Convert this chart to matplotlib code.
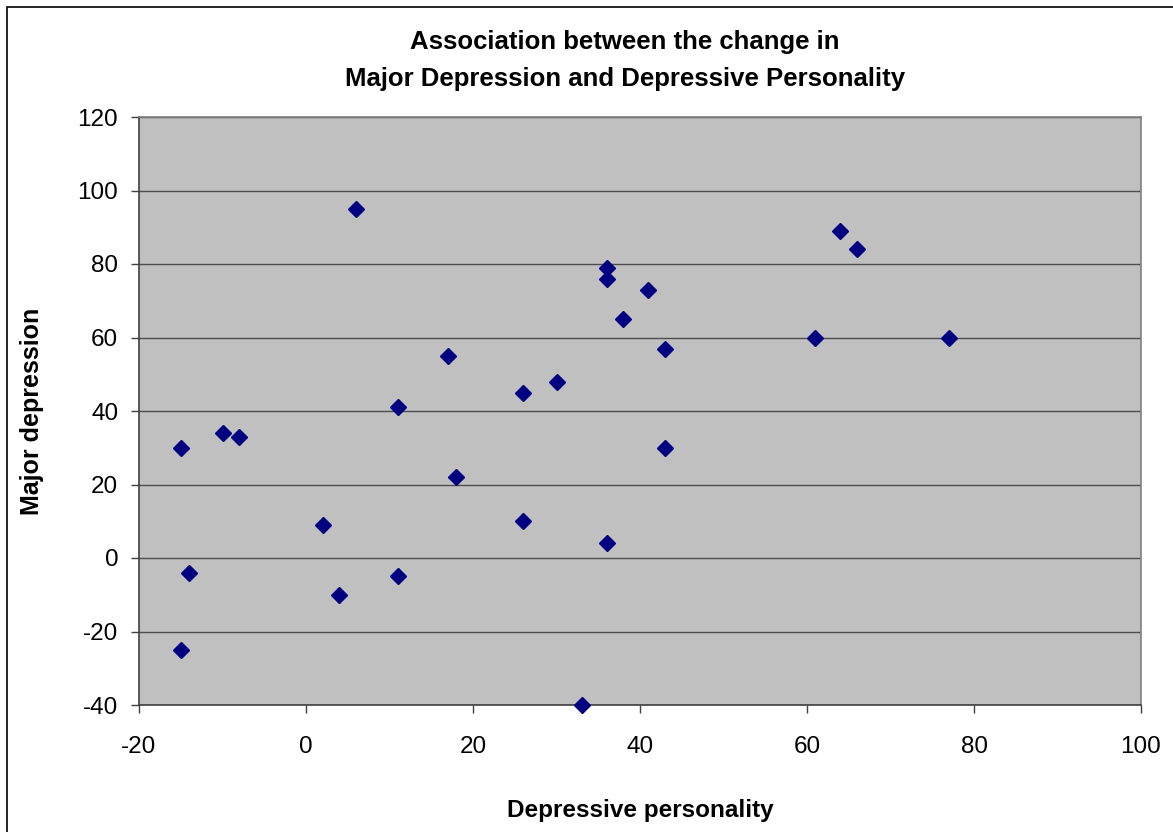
import matplotlib.pyplot as plt
from matplotlib.patches import Rectangle

plt.rcParams['font.family'] = ['Liberation Sans', 'DejaVu Sans']
plt.rcParams['axes.unicode_minus'] = False

# values
depressive_personality = [6, -15, -10, -8, -14, -15, 2, 4, 11, 11, 17, 18,
                          26, 26, 30, 33, 36, 36, 38, 41, 43, 43, 36,
                          61, 64, 66, 77]
major_depression = [95, 30, 34, 33, -4, -25, 9, -10, 41, -5, 55, 22,
                    45, 10, 48, -40, 79, 76, 65, 73, 57, 30, 4,
                    60, 89, 84, 60]

x_ticks = [-20, 0, 20, 40, 60, 80, 100]
y_ticks = [-40, -20, 0, 20, 40, 60, 80, 100, 120]

fig = plt.figure(figsize=(11.73, 8.32), dpi=100)
ax = fig.add_axes([139 / 1173, 1 - 705 / 832, (1141 - 139) / 1173, (705 - 117) / 832])

# outer chart border
fig.patches.append(Rectangle((7 / 1173, -0.1), 1.2, 1 - 7 / 832 + 0.1,
                             transform=fig.transFigure, fill=False,
                             edgecolor='black', linewidth=1.2))

ax.set_facecolor('#c0c0c0')
ax.set_xlim(-20, 100)
ax.set_ylim(-40, 120)
ax.set_xticks(x_ticks)
ax.set_yticks(y_ticks)
ax.grid(axis='y', color='#4d4d4d', linewidth=1.0)
ax.set_axisbelow(True)

ax.plot(depressive_personality, major_depression, linestyle='none',
        marker='D', markersize=8, color='#000080', clip_on=False, zorder=3)

for side in ['left', 'bottom']:
    ax.spines[side].set_color('#404040')
    ax.spines[side].set_linewidth(1.2)
for side in ['top', 'right']:
    ax.spines[side].set_color('#808080')
    ax.spines[side].set_linewidth(1.2)

ax.tick_params(axis='both', labelsize=17.5, length=6, width=1.0,
               color='#404040', direction='out')
ax.tick_params(axis='x', pad=16)
ax.tick_params(axis='y', pad=9)

ax.set_xlabel('Depressive personality', fontsize=17.5, fontweight='bold', labelpad=30)
ax.set_ylabel('Major depression', fontsize=18, fontweight='bold', labelpad=24)
ax.set_title('Association between the change in\nMajor Depression and Depressive Personality',
             fontsize=18.5, fontweight='bold', pad=22, linespacing=1.7, x=0.485)

fig.savefig('out.png', dpi=100)
